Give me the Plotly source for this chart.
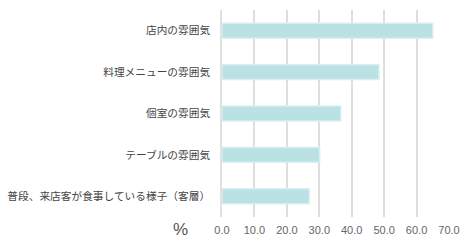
import plotly.graph_objects as go

categories = ["店内の雰囲気", "料理メニューの雰囲気", "個室の雰囲気", "テーブルの雰囲気", "普段、来店客が食事している様子（客層）"]
values = [65.0, 48.4, 36.6, 30.1, 26.9]
x_ticks = [0, 10, 20, 30, 40, 50, 60, 70]
x_tick_labels = ["0.0", "10.0", "20.0", "30.0", "40.0", "50.0", "60.0", "70.0"]

fig = go.Figure(go.Bar(
    x=values, y=categories, orientation="h",
    marker=dict(color="#bae1e4", line=dict(color="#d8eff1", width=1.5)),
))

fig.update_layout(
    width=468, height=246,
    margin=dict(l=222, r=19, t=10, b=29),
    paper_bgcolor="white", plot_bgcolor="white",
    bargap=0.64,
    showlegend=False,
    font=dict(family="Noto Sans CJK JP", size=11, color="#333"),
    xaxis=dict(range=[0, 70], tickvals=x_ticks, ticktext=x_tick_labels,
               showgrid=True, gridcolor="#dedede", gridwidth=1.5, automargin=False,
               zeroline=False, showline=False, ticklabelstandoff=5,
               tickfont=dict(family="Liberation Sans, Arial", size=11, color="#666")),
    yaxis=dict(categoryorder="array", categoryarray=categories, autorange="reversed",
               showline=True, linecolor="#e0e0e0", linewidth=1.5, automargin=False,
               showgrid=False, ticklabelstandoff=8,
               tickfont=dict(family="Noto Sans CJK JP", size=10.7, color="#444")),
    annotations=[dict(text="%", xref="paper", yref="paper", x=-0.185, y=-0.058,
                      xanchor="center", yanchor="middle", showarrow=False,
                      font=dict(family="Liberation Sans, Arial", size=17, color="#555"))],
)

fig.write_html("out.html")
